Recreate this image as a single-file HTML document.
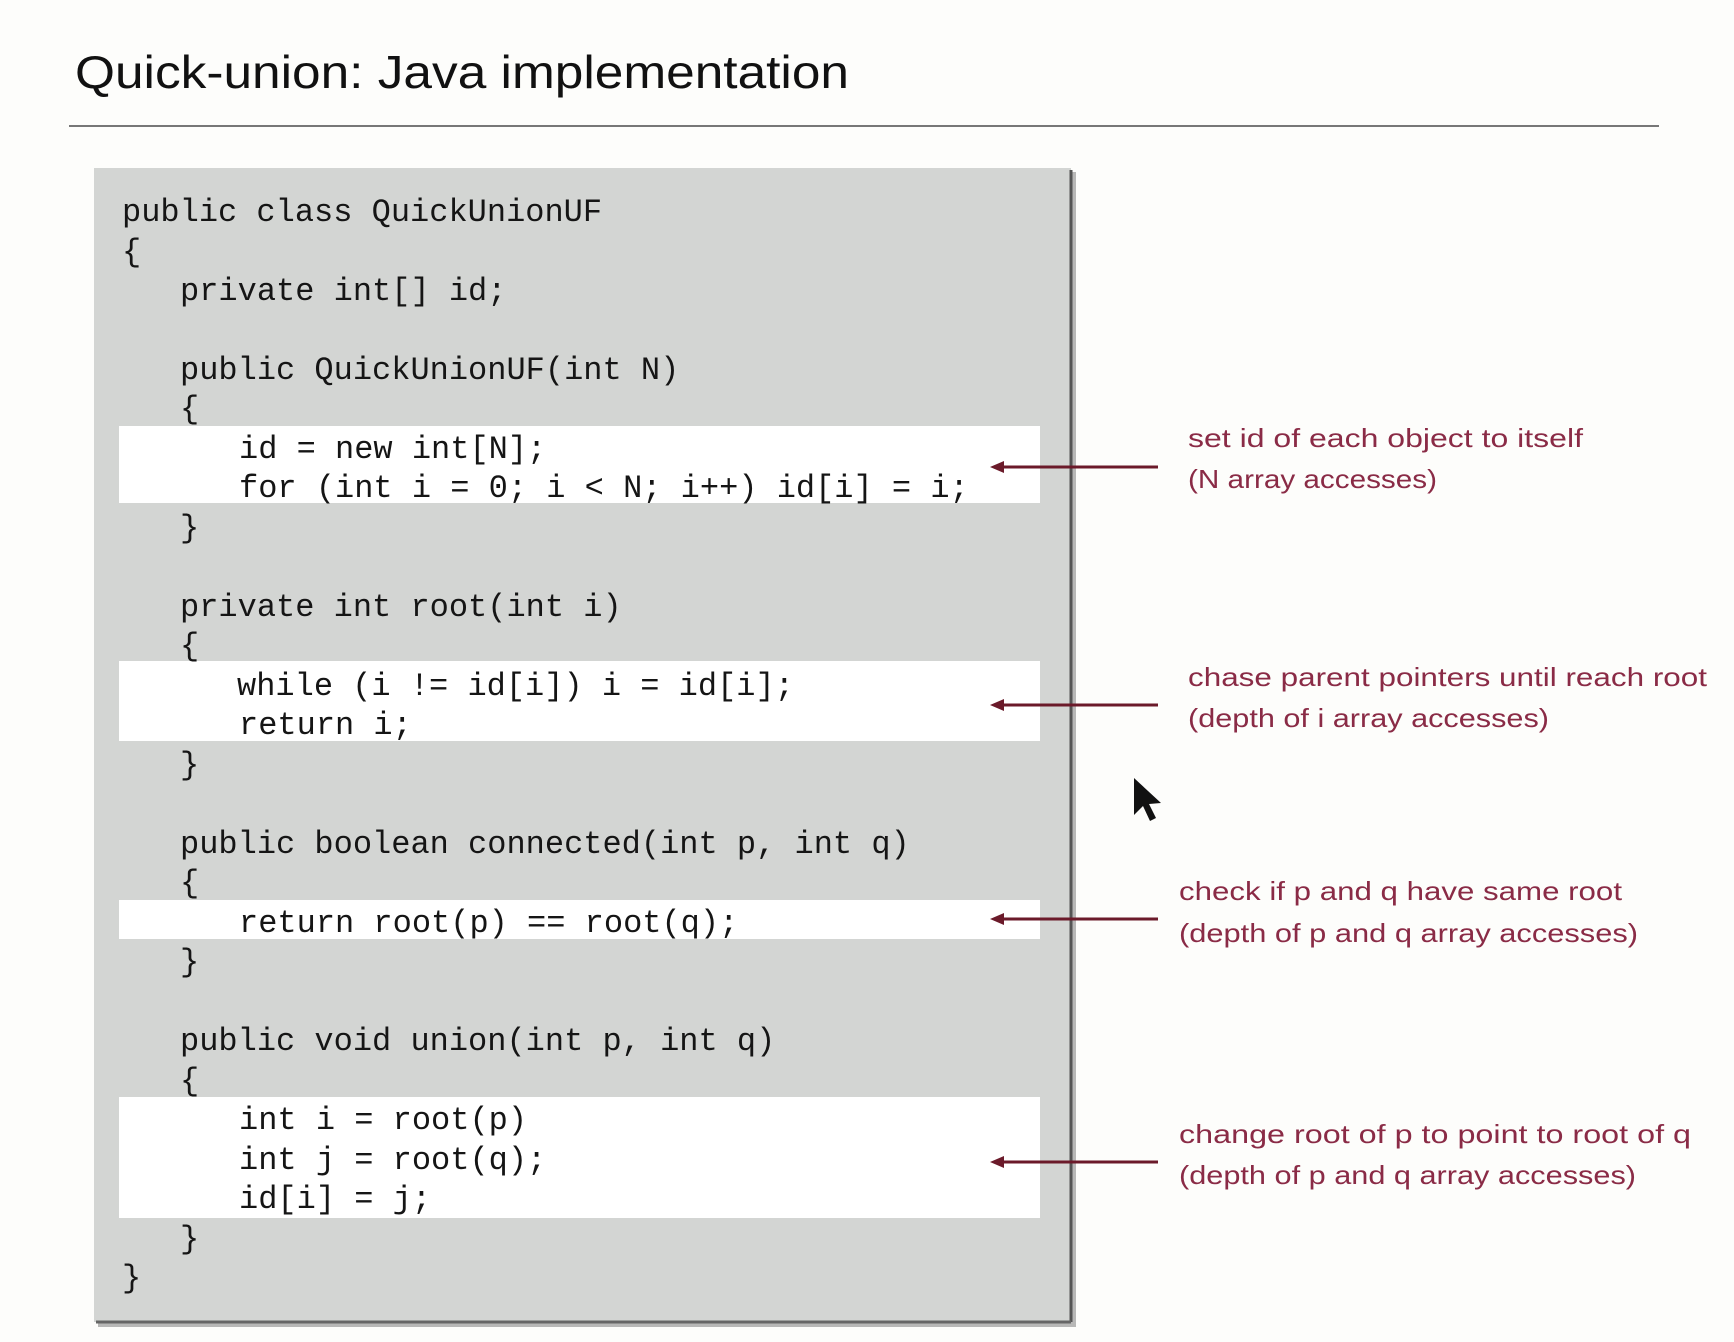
<!DOCTYPE html>
<html><head><meta charset="utf-8"><style>
html,body{margin:0;padding:0;background:#fdfdfb;}
svg{display:block}
</style></head><body>
<svg width="1734" height="1342" viewBox="0 0 1734 1342" xmlns="http://www.w3.org/2000/svg">
<rect width="1734" height="1342" fill="#fdfdfb"/>
<text x="75" y="88" font-family="Liberation Sans, sans-serif" font-size="46" fill="#111" textLength="774" lengthAdjust="spacingAndGlyphs">Quick-union:  Java implementation</text>
<line x1="69" y1="126" x2="1659" y2="126" stroke="#777" stroke-width="2"/>
<rect x="98" y="172" width="978" height="1155" fill="#8a8a8a" opacity="0.6"/>
<rect x="94" y="168" width="977" height="1154" fill="#d3d5d3"/>
<line x1="1071" y1="170" x2="1071" y2="1322" stroke="#555" stroke-width="3"/>
<line x1="96" y1="1322" x2="1071" y2="1322" stroke="#666" stroke-width="3"/>
<g fill="#fff">
<rect x="119" y="426" width="921" height="77"/>
<rect x="119" y="661" width="921" height="80"/>
<rect x="119" y="900" width="921" height="39"/>
<rect x="119" y="1097" width="921" height="121"/>
</g>
<g font-family="Liberation Mono, monospace" font-size="32" fill="#151515" xml:space="preserve">
<text x="122" y="221">public class QuickUnionUF</text>
<text x="122" y="261">{</text>
<text x="180" y="300">private int[] id;</text>
<text x="180" y="379">public QuickUnionUF(int N)</text>
<text x="180" y="418">{</text>
<text x="239" y="458">id = new int[N];</text>
<text x="239" y="497">for (int i = 0; i &lt; N; i++) id[i] = i;</text>
<text x="180" y="537">}</text>
<text x="180" y="616">private int root(int i)</text>
<text x="180" y="655">{</text>
<text x="237" y="695">while (i != id[i]) i = id[i];</text>
<text x="239" y="734">return i;</text>
<text x="180" y="774">}</text>
<text x="180" y="853">public boolean connected(int p, int q)</text>
<text x="180" y="892">{</text>
<text x="239" y="932">return root(p) == root(q);</text>
<text x="180" y="971">}</text>
<text x="180" y="1050">public void union(int p, int q)</text>
<text x="180" y="1090">{</text>
<text x="239" y="1129">int i = root(p)</text>
<text x="239" y="1169">int j = root(q);</text>
<text x="239" y="1208">id[i] = j;</text>
<text x="180" y="1248">}</text>
<text x="122" y="1287">}</text>
</g>
<g stroke="#6b1a2a" stroke-width="3" fill="#6b1a2a">
<line x1="1000" y1="467" x2="1158" y2="467"/><polygon points="990,467 1004,461 1004,473" stroke="none"/>
<line x1="1000" y1="705" x2="1158" y2="705"/><polygon points="990,705 1004,699 1004,711" stroke="none"/>
<line x1="1000" y1="919" x2="1158" y2="919"/><polygon points="990,919 1004,913 1004,925" stroke="none"/>
<line x1="1000" y1="1162" x2="1158" y2="1162"/><polygon points="990,1162 1004,1156 1004,1168" stroke="none"/>
</g>
<g font-family="Liberation Sans, sans-serif" font-size="26" fill="#8a2b46">
<text x="1188" y="447" textLength="395" lengthAdjust="spacingAndGlyphs">set id of each object to itself</text>
<text x="1188" y="488" textLength="249" lengthAdjust="spacingAndGlyphs">(N array accesses)</text>
<text x="1188" y="686" textLength="519" lengthAdjust="spacingAndGlyphs">chase parent pointers until reach root</text>
<text x="1188" y="727" textLength="361" lengthAdjust="spacingAndGlyphs">(depth of i array accesses)</text>
<text x="1179" y="900" textLength="443" lengthAdjust="spacingAndGlyphs">check if p and q have same root</text>
<text x="1179" y="942" textLength="459" lengthAdjust="spacingAndGlyphs">(depth of p and q array accesses)</text>
<text x="1179" y="1143" textLength="512" lengthAdjust="spacingAndGlyphs">change root of p to point to root of q</text>
<text x="1179" y="1184" textLength="457" lengthAdjust="spacingAndGlyphs">(depth of p and q array accesses)</text>
</g>
<polygon points="1134,778 1134,815 1143,806 1150,821 1156,818 1149,804 1161,803" fill="#111"/>
</svg>
</body></html>
